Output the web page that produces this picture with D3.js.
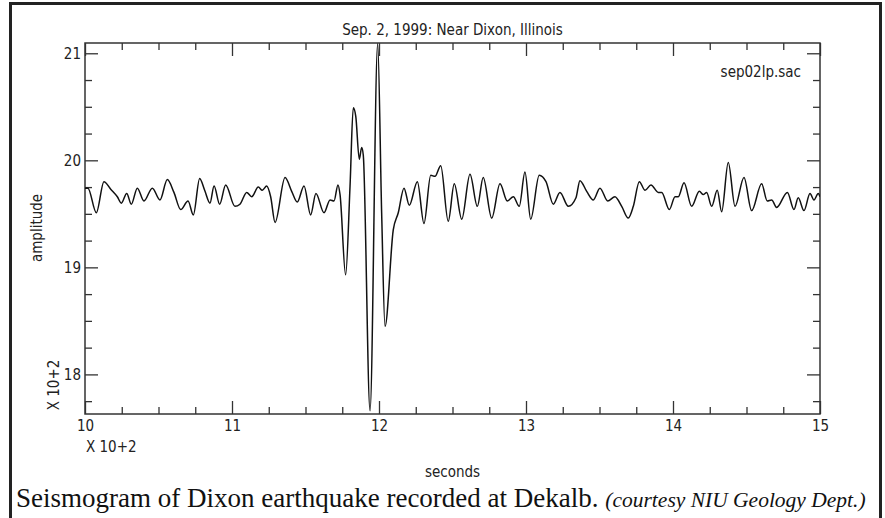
<html>
<head>
  <script src="https://d3js.org/d3.v7.min.js"></script>
  <style>
    body { margin: 0; background: white; }
    svg { display: block; }
    .axis text { font-family: "Liberation Sans Narrow", "Arial Narrow", "DejaVu Sans Condensed", sans-serif; font-size: 15px; fill: #222; }
    .axis line { stroke: #333; stroke-width: 1.3; }
    .lbl { font-family: "Liberation Sans Narrow", "Arial Narrow", "DejaVu Sans Condensed", sans-serif; font-size: 15px; fill: #222; }
  </style>
</head>
<body>
<svg id="chart" width="885" height="518"></svg>
<script>
  // trace: time in seconds, amplitude in counts
  var times = [1000.0, 1002.0, 1007.7, 1012.9, 1017.5, 1022.0, 1024.7, 1028.4, 1031.5, 1035.6,
    1040.1, 1045.8, 1051.0, 1056.0, 1060.5, 1065.1, 1070.1, 1073.7, 1078.0, 1081.4,
    1085.0, 1087.8, 1091.6, 1095.7, 1102.0, 1105.4, 1110.0, 1113.4, 1117.9, 1120.6,
    1123.6, 1126.3, 1129.3, 1136.1, 1140.6, 1144.4, 1149.0, 1153.5, 1157.1, 1162.6,
    1166.7, 1169.4, 1172.1, 1173.5, 1177.3, 1180.3, 1182.5, 1184.2, 1186.6, 1188.2,
    1189.3, 1193.9, 1199.1, 1201.8, 1204.1, 1209.7, 1213.1, 1217.0, 1220.6, 1226.1,
    1230.6, 1235.2, 1238.1, 1242.0, 1247.1, 1251.2, 1256.3, 1261.9, 1266.9, 1270.9,
    1276.7, 1282.3, 1287.3, 1291.4, 1295.4, 1299.3, 1303.2, 1309.0, 1313.6, 1318.6,
    1323.1, 1328.8, 1334.0, 1336.7, 1341.3, 1345.8, 1350.3, 1355.6, 1360.5, 1365.1,
    1369.6, 1373.0, 1377.1, 1381.0, 1385.0, 1390.0, 1392.3, 1397.5, 1401.4, 1403.6,
    1407.5, 1412.7, 1417.9, 1420.6, 1422.9, 1426.3, 1430.1, 1433.1, 1437.6, 1442.2,
    1448.3, 1453.5, 1460.3, 1464.1, 1467.1, 1470.5, 1477.8, 1482.3, 1485.2, 1489.1,
    1493.2, 1495.9, 1498.8, 1500.0];

  var amplitude = [1974, 1974, 1951, 1980, 1973, 1966, 1960, 1969, 1959, 1974,
    1962, 1974, 1963, 1982, 1970, 1954, 1962, 1949, 1983, 1972,
    1960, 1976, 1959, 1977, 1957, 1959, 1970, 1966, 1975, 1972,
    1976, 1966, 1942, 1984, 1971, 1961, 1976, 1949, 1969, 1951,
    1963, 1962, 1977, 1968, 1893, 1976, 2049, 2041, 2001, 2012,
    2005, 1766, 2109, 1951, 1845, 1935, 1951, 1974, 1958, 1980,
    1941, 1986, 1985, 1995, 1943, 1978, 1945, 1987, 1957, 1984,
    1946, 1978, 1962, 1966, 1957, 1989, 1945, 1986, 1980, 1959,
    1970, 1957, 1965, 1981, 1971, 1963, 1974, 1962, 1966, 1957,
    1946, 1957, 1980, 1972, 1977, 1970, 1970, 1954, 1966, 1966,
    1979, 1957, 1971, 1968, 1970, 1957, 1972, 1952, 1998, 1957,
    1984, 1953, 1978, 1962, 1963, 1956, 1970, 1954, 1965, 1953,
    1969, 1963, 1969, 1966];

  var xMajorTicks = [1000, 1100, 1200, 1300, 1400, 1500];
  var yMajorTicks = [1800, 1900, 2000, 2100];
  var titleText = "Sep. 2, 1999: Near Dixon, Illinois";
  var fileName = "sep02lp.sac";

  var svg = d3.select("#chart");
  var plotL = 85, plotR = 820, plotT = 43, plotB = 414;

  var x = d3.scaleLinear().domain([1000, 1500]).range([plotL, plotR]);
  var y = d3.scaleLinear().domain([1763, 2109.6]).range([plotB, plotT]);

  var xMinor = d3.range(1000, 1501, 25).filter(function(d) { return xMajorTicks.indexOf(d) < 0; });
  var yMinor = d3.range(1775, 2101, 25).filter(function(d) { return yMajorTicks.indexOf(d) < 0; });

  svg.append("clipPath").attr("id", "plotclip")
    .append("rect")
    .attr("x", plotL).attr("y", plotT).attr("width", plotR - plotL).attr("height", plotB - plotT);

  // outer frame (bottom edge runs off the picture)
  svg.append("path")
    .attr("d", "M10.5,530 V3.5 H880.5 V530")
    .attr("fill", "none").attr("stroke", "#222").attr("stroke-width", 3);

  // axes, ticks pointing inward
  function fmt(d) { return d / 100; }

  svg.append("g").attr("class", "axis").attr("transform", "translate(0," + plotB + ")")
    .call(d3.axisBottom(x).tickValues(xMajorTicks).tickSize(-13).tickPadding(6).tickFormat(fmt));
  svg.append("g").attr("class", "axis").attr("transform", "translate(0," + plotB + ")")
    .call(d3.axisBottom(x).tickValues(xMinor).tickSize(-7).tickFormat(""));
  svg.append("g").attr("class", "axis").attr("transform", "translate(0," + plotT + ")")
    .call(d3.axisTop(x).tickValues(xMajorTicks).tickSize(-13).tickFormat(""));
  svg.append("g").attr("class", "axis").attr("transform", "translate(0," + plotT + ")")
    .call(d3.axisTop(x).tickValues(xMinor).tickSize(-7).tickFormat(""));

  svg.append("g").attr("class", "axis").attr("transform", "translate(" + plotL + ",0)")
    .call(d3.axisLeft(y).tickValues(yMajorTicks).tickSize(-13).tickPadding(4).tickFormat(fmt));
  svg.append("g").attr("class", "axis").attr("transform", "translate(" + plotL + ",0)")
    .call(d3.axisLeft(y).tickValues(yMinor).tickSize(-7).tickFormat(""));
  svg.append("g").attr("class", "axis").attr("transform", "translate(" + plotR + ",0)")
    .call(d3.axisRight(y).tickValues(yMajorTicks).tickSize(-13).tickFormat(""));
  svg.append("g").attr("class", "axis").attr("transform", "translate(" + plotR + ",0)")
    .call(d3.axisRight(y).tickValues(yMinor).tickSize(-7).tickFormat(""));

  svg.selectAll(".axis .domain").remove();

  // plot box
  svg.append("rect")
    .attr("x", plotL).attr("y", plotT).attr("width", plotR - plotL).attr("height", plotB - plotT)
    .attr("fill", "none").attr("stroke", "#333").attr("stroke-width", 1.5);

  // seismogram trace
  var line = d3.line()
    .x(function(d, i) { return x(times[i]); })
    .y(function(d) { return y(d); })
    .curve(d3.curveMonotoneX);

  svg.append("path")
    .datum(amplitude)
    .attr("d", line)
    .attr("clip-path", "url(#plotclip)")
    .attr("fill", "none")
    .attr("stroke", "#111")
    .attr("stroke-width", 1.5)
    .attr("stroke-linejoin", "round");

  // labels
  svg.append("text").attr("class", "lbl")
    .attr("x", (plotL + plotR) / 2).attr("y", 35).attr("text-anchor", "middle")
    .text(titleText);

  svg.append("text").attr("class", "lbl")
    .attr("x", 801).attr("y", 77).attr("text-anchor", "end")
    .text(fileName);

  svg.append("text").attr("class", "lbl")
    .attr("transform", "translate(42,228) rotate(-90)").attr("text-anchor", "middle")
    .text("amplitude");

  svg.append("text").attr("class", "lbl")
    .attr("transform", "translate(59,385) rotate(-90)").attr("text-anchor", "middle")
    .text("X 10+2");

  svg.append("text").attr("class", "lbl")
    .attr("x", 86).attr("y", 452)
    .text("X 10+2");

  svg.append("text").attr("class", "lbl")
    .attr("x", (plotL + plotR) / 2).attr("y", 477).attr("text-anchor", "middle")
    .text("seconds");

  // caption
  var cap = svg.append("text").attr("x", 16).attr("y", 507)
    .style("font-family", "'Liberation Serif', 'Times New Roman', serif").style("fill", "#111");
  cap.append("tspan").style("font-size", "27px")
    .text("Seismogram of Dixon earthquake recorded at Dekalb. ");
  cap.append("tspan").style("font-size", "21.5px").style("font-style", "italic")
    .text("(courtesy NIU Geology Dept.)");
</script>
</body>
</html>
